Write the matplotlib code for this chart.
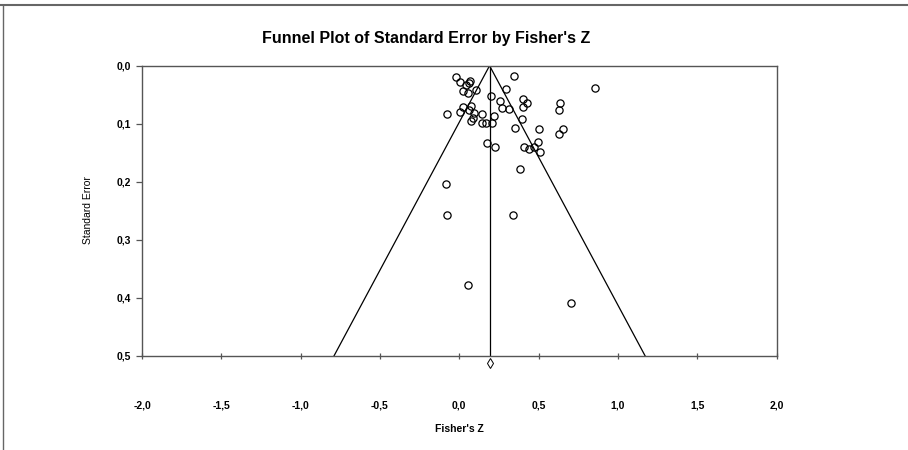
import matplotlib
matplotlib.use('Agg')
import matplotlib.pyplot as plt
from matplotlib.lines import Line2D
from matplotlib.ticker import FuncFormatter

plt.rcParams['font.family'] = ['Liberation Sans', 'DejaVu Sans']

# study effects (Fisher's Z) and standard errors
fisher_z = [-0.021, 0.004, 0.042, 0.067, 0.063, 0.023, 0.055, 0.105, 0.197, 0.347,
            0.294, 0.853, 0.258, 0.271, 0.315, 0.399, 0.424, 0.403, 0.632, 0.626,
            -0.076, 0.023, 0.004, 0.074, 0.059, 0.095, 0.084, 0.074, 0.143, 0.141,
            0.168, 0.206, 0.220, 0.395, 0.351, 0.502, 0.655, 0.630, 0.172, 0.225,
            0.405, 0.441, 0.468, 0.496, 0.511, 0.380, -0.086, -0.076, 0.340, 0.057,
            0.704]
std_err = [0.020, 0.028, 0.033, 0.026, 0.030, 0.044, 0.047, 0.042, 0.052, 0.017,
           0.040, 0.039, 0.061, 0.073, 0.074, 0.057, 0.064, 0.071, 0.065, 0.076,
           0.083, 0.071, 0.080, 0.069, 0.076, 0.082, 0.090, 0.095, 0.084, 0.099,
           0.099, 0.098, 0.087, 0.092, 0.107, 0.110, 0.109, 0.118, 0.133, 0.141,
           0.140, 0.143, 0.141, 0.132, 0.148, 0.178, 0.204, 0.257, 0.257, 0.378,
           0.409]

POOLED_Z = 0.191
SE_MAX = 0.5
X_TICKS = [-2.0, -1.5, -1.0, -0.5, 0.0, 0.5, 1.0, 1.5, 2.0]
Y_TICKS = [0.0, 0.1, 0.2, 0.3, 0.4, 0.5]

fig = plt.figure(figsize=(9.08, 4.5), dpi=100)
ax = fig.add_axes([0.1564, 0.2096, 0.6988, 0.6444])


def comma_fmt(v, pos):
    return ('%.1f' % v).replace('.', ',')


def draw_funnel():
    half = 1.96 * SE_MAX
    ax.plot([POOLED_Z - half, POOLED_Z, POOLED_Z + half], [SE_MAX, 0, SE_MAX],
            color='black', lw=0.9)
    ax.plot([POOLED_Z, POOLED_Z], [0, SE_MAX], color='black', lw=0.9)
    ax.plot([POOLED_Z], [0.513], marker='d', ms=5, mfc='white', mec='black',
            mew=0.7, clip_on=False, linestyle='none')


def draw_points():
    ax.plot(fisher_z, std_err, 'o', ms=5.2, mfc='none', mec='black', mew=0.9)


def style_axes():
    ax.set_xlim(-2.0, 2.0)
    ax.set_ylim(SE_MAX, 0.0)
    ax.set_xticks(X_TICKS)
    ax.set_yticks(Y_TICKS)
    ax.xaxis.set_major_formatter(FuncFormatter(comma_fmt))
    ax.yaxis.set_major_formatter(FuncFormatter(comma_fmt))
    for s in ax.spines.values():
        s.set_color('#555555')
        s.set_linewidth(1.0)
    ax.tick_params(axis='x', direction='inout', length=5, width=0.9,
                   color='#555555', pad=30, labelsize=7.5)
    ax.tick_params(axis='y', direction='out', length=4, width=0.9,
                   color='#555555', pad=4, labelsize=7.5)
    for lab in ax.get_xticklabels() + ax.get_yticklabels():
        lab.set_fontweight('bold')


def main():
    draw_funnel()
    draw_points()
    style_axes()

    fig.text(426 / 908, 1 - 38 / 450, "Funnel Plot of Standard Error by Fisher's Z",
             ha='center', va='center', fontsize=11.5, fontweight='bold')
    fig.text(459 / 908, 1 - 429 / 450, "Fisher's Z", ha='center', va='center',
             fontsize=7.5, fontweight='bold')
    fig.text(88 / 908, 1 - 210 / 450, 'Standard Error', ha='center', va='center',
             rotation=90, fontsize=7.5)

    # outer frame (top and left edges)
    fig.add_artist(Line2D([0, 1], [1 - 5 / 450, 1 - 5 / 450], color='#666666', lw=1.5))
    fig.add_artist(Line2D([3 / 908, 3 / 908], [0, 1 - 5 / 450], color='#666666', lw=1.0))

    fig.savefig('out.png', dpi=100)


if __name__ == '__main__':
    main()
